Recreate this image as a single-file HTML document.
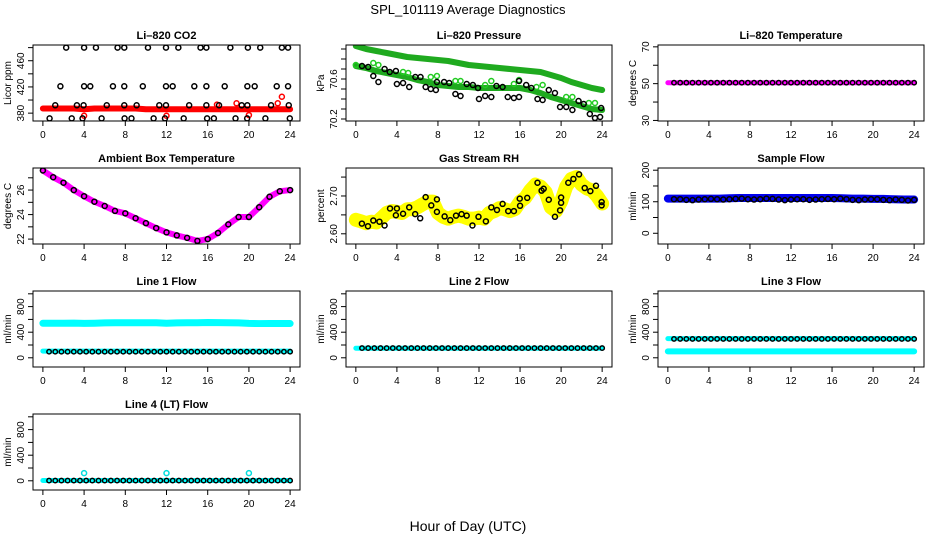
<!DOCTYPE html>
<html><head><meta charset="utf-8"><style>
html,body{margin:0;padding:0;background:#fff}
svg{display:block;font-family:"Liberation Sans",sans-serif}
</style></head><body>
<svg id="c" width="936" height="540" viewBox="0 0 936 540">
<text x="468" y="14" text-anchor="middle" font-size="13">SPL_101119  Average Diagnostics</text>
<text x="468" y="531" text-anchor="middle" font-size="14">Hour of Day (UTC)</text>
</svg>
<script>
// ---------- data ----------
const hours = [0,1,2,3,4,5,6,7,8,9,10,11,12,13,14,15,16,17,18,19,20,21,22,23,24];
const xTicks = [0,4,8,12,16,20,24];
const sparseT = [0.6,1.2,1.8,2.4,3.0,3.6,4.2,4.8,5.4,6.0,6.6,7.2,7.8,8.4,9.0,9.6,10.2,10.8,11.4,12.0,12.6,13.2,13.8,14.4,15.0,15.6,16.2,16.8,17.4,18.0,18.6,19.2,19.8,20.4,21.0,21.6,22.2,22.8,23.4,24.0];

const co2Red = [387,387,387,387,386,387,387,387,387,387,386,386,386,386,386,386,386,386,386,386,386,386,386,386,386];
const co2BlackT = [2.26,4.0,5.15,7.25,7.9,10.2,11.95,13.15,15.3,15.87,18.2,19.9,21.1,23.2,23.8, 1.7,4.0,4.6,6.8,7.9,9.7,11.95,12.6,14.7,15.87,17.65,19.85,20.56,22.7,23.8, 1.2,3.3,3.95,6.2,7.9,9.1,11.3,11.95,14.2,15.87,17.1,19.3,19.85,22.15,23.87, 0.65,2.8,3.85,5.7,7.93,8.6,10.75,11.85,13.67,15.94,16.6,18.7,19.83,21.6,23.97];
const co2BlackV = [480,480,480,480,480,480,480,480,480,480,480,480,480,480,480, 421,421,421,421,421,421,421,421,421,421,421,421,421,421,421, 392,392,392,392,392,392,392,392,392,392,392,392,392,392,392, 372,372,372,372,372,372,372,372,372,372,372,372,372,372,372];
const co2RedOutT = [4.0,12.0,16.9,18.8,20.0,22.8,23.2];
const co2RedOutV = [376,376,393,395,377,395,405];

const presUpper = [70.93,70.90,70.88,70.86,70.84,70.82,70.81,70.80,70.79,70.78,70.76,70.74,70.73,70.72,70.71,70.70,70.69,70.68,70.67,70.64,70.61,70.57,70.54,70.51,70.49];
const presLower = [70.73,70.71,70.68,70.66,70.64,70.62,70.59,70.57,70.54,70.53,70.52,70.52,70.51,70.51,70.51,70.51,70.51,70.49,70.46,70.42,70.39,70.36,70.33,70.30,70.29];
const presBlackT = [0.6,1.2,1.7,2.2,2.8,3.3,3.9,4.0,4.6,5.2,5.8,6.3,6.8,7.3,7.8,7.9,8.6,9.1,9.7,10.2,10.8,11.4,11.9,12.0,12.6,13.2,13.7,14.3,14.8,15.4,15.9,15.9,16.6,17.1,17.7,18.2,18.8,19.4,19.9,20.5,21.1,21.7,22.2,22.8,23.3,23.8,23.9];
const presBlackV = [70.73,70.72,70.63,70.57,70.70,70.67,70.68,70.55,70.56,70.52,70.62,70.62,70.52,70.50,70.49,70.57,70.57,70.56,70.45,70.43,70.55,70.54,70.51,70.40,70.43,70.42,70.53,70.52,70.42,70.41,70.42,70.58,70.54,70.51,70.40,70.39,70.49,70.46,70.32,70.32,70.29,70.38,70.35,70.25,70.21,70.22,70.31];
const presGreenT = [0.0,1.7,2.2,4.6,5.1,7.3,7.9,9.7,10.2,12.6,13.2,15.4,15.9,17.6,18.2,20.5,21.1,22.7,23.3];
const presGreenV = [70.74,70.76,70.74,70.67,70.66,70.62,70.63,70.58,70.58,70.54,70.58,70.55,70.59,70.52,70.54,70.42,70.42,70.36,70.36];

const liTempMag = [50.5,50.5,50.5,50.5,50.5,50.5,50.5,50.5,50.5,50.5,50.5,50.5,50.5,50.5,50.5,50.5,50.5,50.5,50.5,50.5,50.5,50.5,50.5,50.5,50.5];
const liTempBlack = [50.5,50.5,50.5,50.5,50.5,50.5,50.5,50.5,50.5,50.5,50.5,50.5,50.5,50.5,50.5,50.5,50.5,50.5,50.5,50.5,50.5,50.5,50.5,50.5,50.5,50.5,50.5,50.5,50.5,50.5,50.5,50.5,50.5,50.5,50.5,50.5,50.5,50.5,50.5,50.5];

const ambient = [27.6,27.05,26.6,26.0,25.5,25.05,24.7,24.3,24.1,23.7,23.3,22.9,22.55,22.3,22.1,21.85,22.0,22.5,23.2,23.8,23.8,24.6,25.45,25.9,26.0];

const rhT = [0.59,1.18,1.7,2.3,2.8,3.33,4.0,3.9,4.6,5.2,5.78,6.27,6.8,7.35,7.9,7.9,8.65,9.2,9.76,10.3,10.8,11.36,11.95,12.67,13.2,13.75,14.3,14.85,15.4,15.97,16.0,16.7,17.7,18.1,18.3,18.8,19.4,19.9,20.0,20.0,20.7,21.2,21.75,22.3,22.85,23.4,23.95,23.95];
const rhV = [2.627,2.62,2.635,2.632,2.622,2.667,2.667,2.649,2.653,2.67,2.652,2.641,2.697,2.675,2.691,2.658,2.646,2.636,2.648,2.652,2.648,2.622,2.645,2.633,2.67,2.663,2.679,2.66,2.66,2.693,2.674,2.695,2.735,2.714,2.719,2.69,2.645,2.662,2.696,2.682,2.735,2.745,2.757,2.721,2.713,2.727,2.684,2.675];
const rhYellowT = [0.0,0.5,1.0,1.5,2.0,2.5,3.0,3.5,4.0,4.5,5.0,5.5,6.0,6.5,7.0,7.5,8.0,8.5,9.0,9.5,10.0,10.5,11.0,11.5,12.0,12.5,13.0,13.5,14.0,14.5,15.0,15.5,16.0,16.5,17.0,17.5,18.0,18.5,19.0,19.5,20.0,20.5,21.0,21.5,22.0,22.5,23.0,23.5,24.0];
const rhYellowV = [2.637,2.633,2.628,2.632,2.63,2.642,2.655,2.66,2.658,2.655,2.665,2.665,2.67,2.678,2.685,2.685,2.655,2.645,2.64,2.645,2.648,2.645,2.64,2.64,2.643,2.64,2.655,2.66,2.668,2.665,2.66,2.665,2.685,2.695,2.715,2.73,2.725,2.71,2.67,2.66,2.685,2.725,2.745,2.75,2.73,2.72,2.715,2.7,2.68];

const sampleBlue = [110,110,110,110,110,110,111,112,112,112,112,112,112,112,112,112,112,111,110,110,109,109,108,107,107];
const sampleBlack = [108,108,106,105,107,108,109,108,107,108,109,110,108,107,108,110,109,107,105,107,108,108,106,107,108,109,108,110,108,106,105,107,108,108,106,105,107,106,104,106];

const l1CyanHigh = [540,540,540,542,538,540,545,548,548,548,548,548,540,545,548,548,552,550,548,545,538,535,535,535,535];
const l1CyanLow = [105,105,105,105,105,105,105,105,105,105,105,105,105,105,105,105,105,105,105,105,105,105,105,105,105];
const l1Black = [95,95,95,95,95,95,95,95,95,95,95,95,95,95,95,95,95,95,95,95,95,95,95,95,95,95,95,95,95,95,95,95,95,95,95,95,95,95,95,95];
const l2Cyan = [150,150,150,150,150,150,150,150,150,150,150,150,150,150,150,150,150,150,150,150,150,150,150,150,150];
const l2Black = [152,152,152,152,152,152,152,152,152,152,152,152,152,152,152,152,152,152,152,152,152,152,152,152,152,152,152,152,152,152,152,152,152,152,152,152,152,152,152,152];
const l3CyanHigh = [300];
const l3CyanLow = [100,100,100,100,100,100,100,100,100,100,100,100,100,100,100,100,100,100,100,100,100,100,100,100,100];
const l3Black = [295,295,295,295,295,295,295,295,295,295,295,295,295,295,295,295,295,295,295,295,295,295,295,295,295,295,295,295,295,295,295,295,295,295,295,295,295,295,295,295];
const l4Cyan = [5,5,5,5,5,5,5,5,5,5,5,5,5,5,5,5,5,5,5,5,5,5,5,5,5];
const l4Black = [3,3,3,3,3,3,3,3,3,3,3,3,3,3,3,3,3,3,3,3,3,3,3,3,3,3,3,3,3,3,3,3,3,3,3,3,3,3,3,3];
const l4OutT = [4.0,12.0,20.0];
const l4OutV = [120,120,120];

// ---------- drawing ----------
const svg = document.getElementById('c');
const NS = 'http://www.w3.org/2000/svg';
function mk(tag, attrs, parent){ const e=document.createElementNS(NS,tag); for(const k in attrs) e.setAttribute(k,attrs[k]); (parent||svg).appendChild(e); return e; }

const cols = [[33,300],[346,612],[658,924]];
const rows = [[45,121],[168,244],[291,367],[414,490]];

function panel(name, col, row, title, ylab, ylim, ticks, labels){
  const [x0,x1] = cols[col], [y0,y1] = rows[row];
  const g = mk('g',{});
  
  
  const sx = h => x0 + (h - (-0.96)) / 25.92 * (x1 - x0);
  const sy = v => y1 - (v - ylim[0]) / (ylim[1] - ylim[0]) * (y1 - y0);
  const t = mk('text',{x:(x0+x1)/2, y:y0-6, 'text-anchor':'middle','font-size':'11','font-weight':'bold'},g);
  t.textContent = title;
  
  
  mk('line',{x1:sx(0),x2:sx(24),y1:y1,y2:y1,stroke:'#000','stroke-width':1},g);
  xTicks.forEach(h=>{
    mk('line',{x1:sx(h),x2:sx(h),y1:y1,y2:y1+5,stroke:'#000'},g);
    const tl = mk('text',{x:sx(h),y:y1+17,'text-anchor':'middle','font-size':'10'},g);
    tl.textContent = h;
    
    
  });
  mk('line',{x1:x0,x2:x0,y1:sy(ticks[0]),y2:sy(ticks[ticks.length-1]),stroke:'#000'},g);
  ticks.forEach((v,i)=>{
    mk('line',{x1:x0-5,x2:x0,y1:sy(v),y2:sy(v),stroke:'#000'},g);
    if(labels[i]!==''){
      const yl = mk('text',{x:0,y:0,'text-anchor':'middle','font-size':'10',transform:`translate(${x0-9},${sy(v)}) rotate(-90)`},g);
      yl.textContent = labels[i];
      
      
    }
  });
  const yt = mk('text',{x:0,y:0,'text-anchor':'middle','font-size':'10',transform:`translate(${x0-22},${(y0+y1)/2}) rotate(-90)`},g);
  yt.textContent = ylab;
  
  
  const clip = 'clip'+name;
  const cp = mk('clipPath',{id:clip},g); mk('rect',{x:x0,y:y0,width:x1-x0,height:y1-y0},cp);
  const plot = mk('g',{'clip-path':`url(#${clip})`},g);
  mk('rect',{x:x0,y:y0,width:x1-x0,height:y1-y0,fill:'none',stroke:'#000','stroke-width':1},g);
  return {
    band(ts, vs, color, w, nm){
      const pts = ts.map((h,i)=>sx(h)+','+sy(vs[i])).join(' ');
      const p = mk('polyline',{points:pts,fill:'none',stroke:color,'stroke-width':w,'stroke-linecap':'round','stroke-linejoin':'round'},plot);
      
      
    },
    pts(ts, vs, color, nm, r){
      ts.forEach((h,i)=>{
        const c = mk('circle',{cx:sx(h),cy:sy(vs[i]),r:r||2.5,fill:'none',stroke:color,'stroke-width':1.5},plot);
        
        
      });
    }
  };
}

let p;
p = panel('co2-panel',0,0,'Li–820 CO2','Licor ppm',[368,484],[380,400,420,440,460,480],['380','','420','','460','']);
p.band(hours, co2Red, '#ff0000', 6, 'co2-red-series');
p.pts(co2RedOutT, co2RedOutV, '#ff0000', 'co2-red-point');
p.pts(co2BlackT, co2BlackV, '#000', 'co2-black-point');

p = panel('pressure-panel',1,0,'Li–820 Pressure','kPa',[70.18,70.94],[70.2,70.3,70.4,70.5,70.6,70.7,70.8,70.9],['70.2','','','','70.6','','','']);
p.band(hours, presUpper, '#1faa1f', 6, 'pressure-upper-band');
p.band(hours, presLower, '#1faa1f', 6, 'pressure-lower-band');
p.pts(presGreenT, presGreenV, '#22cc22', 'pressure-green-point');
p.pts(presBlackT, presBlackV, '#000', 'pressure-black-point');

p = panel('li-temp-panel',2,0,'Li–820 Temperature','degrees C',[29.7,71],[30,40,50,60,70],['30','','50','','70']);
p.band(hours, liTempMag, '#ff00ff', 5, 'li-temp-magenta');
p.pts(sparseT, liTempBlack, '#000', 'li-temp-black-point', 2.2);

p = panel('ambient-panel',0,1,'Ambient Box Temperature','degrees C',[21.6,27.8],[22,23,24,25,26,27],['22','','24','','26','']);
p.band(hours, ambient, '#ff00ff', 6, 'ambient-magenta');
p.pts(hours, ambient, '#000', 'ambient-black-point');

p = panel('rh-panel',1,1,'Gas Stream RH','percent',[2.573,2.774],[2.60,2.65,2.70,2.75],['2.60','','2.70','']);
p.band(rhYellowT, rhYellowV, '#ffff00', 14, 'rh-yellow-band');
p.pts(rhT, rhV, '#000', 'rh-black-point');

p = panel('sample-flow-panel',2,1,'Sample Flow','ml/min',[-34,207],[0,50,100,150,200],['0','','100','','200']);
p.band(hours, sampleBlue, '#0000ee', 8, 'sample-blue-band');
p.pts(sparseT, sampleBlack, '#000', 'sample-black-point');

const fl = [-144,1044], ft=[0,200,400,600,800,1000], flb=['0','','400','','800',''];
p = panel('line1-panel',0,2,'Line 1 Flow','ml/min',fl,ft,flb);
p.band(hours, l1CyanHigh, '#00ffff', 7, 'line1-cyan-high');
p.band(hours, l1CyanLow, '#00ffff', 5, 'line1-cyan-low');
p.pts(sparseT, l1Black, '#000', 'line1-black-point', 2.2);

p = panel('line2-panel',1,2,'Line 2 Flow','ml/min',fl,ft,flb);
p.band(hours, l2Cyan, '#00ffff', 5, 'line2-cyan');
p.pts(sparseT, l2Black, '#000', 'line2-black-point', 2.2);

p = panel('line3-panel',2,2,'Line 3 Flow','ml/min',fl,ft,flb);
p.band(hours, l3CyanLow, '#00ffff', 6, 'line3-cyan-low');
p.band([0,24], [l3CyanHigh[0], l3CyanHigh[0]], '#00ffff', 5, 'line3-cyan-high');
p.pts(sparseT, l3Black, '#000', 'line3-black-point', 2.2);

p = panel('line4-panel',0,3,'Line 4 (LT) Flow','ml/min',fl,ft,flb);
p.band(hours, l4Cyan, '#00ffff', 5, 'line4-cyan');
p.pts(l4OutT, l4OutV, '#00dddd', 'line4-cyan-outlier');
p.pts(sparseT, l4Black, '#000', 'line4-black-point', 2.2);
</script>
</body></html>
